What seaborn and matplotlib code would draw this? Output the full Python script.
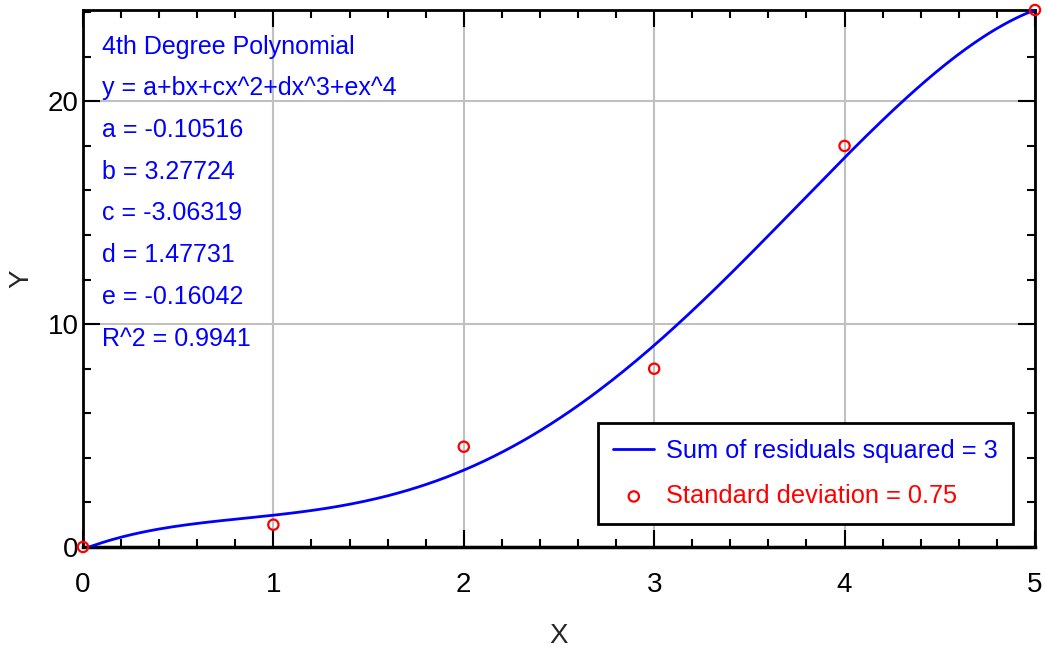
import numpy as np
import matplotlib
matplotlib.use("Agg")
import matplotlib.pyplot as plt
import seaborn as sns
import pandas as pd
from matplotlib.ticker import MultipleLocator

# Data
x_points = [0, 1, 2, 3, 4, 5]
y_points = [0.0, 1.0, 4.5, 8.0, 18.0, 24.1]
coef_names = ["a", "b", "c", "d", "e"]
coef_values = [-0.10516, 3.27724, -3.06319, 1.47731, -0.16042]
r_squared = "0.9941"
sum_resid_sq = "3"
std_dev = "0.75"

sns.set_theme(style="white")
plt.rcParams['font.family'] = ['Liberation Sans', 'DejaVu Sans']

fig = plt.figure(figsize=(10.45, 6.5), dpi=100)
ax = fig.add_axes([0.0794, 0.1585, 0.9110, 0.8261])

xs = np.linspace(0, 5, 300)
ys = sum(c * xs ** i for i, c in enumerate(coef_values))
curve = pd.DataFrame({"x": xs, "y": ys})
pts = pd.DataFrame({"x": x_points, "y": y_points})

sns.lineplot(data=curve, x="x", y="y", ax=ax, color="#0000ff", linewidth=2,
             label=f"Sum of residuals squared = {sum_resid_sq}", zorder=3)
sns.scatterplot(data=pts, x="x", y="y", ax=ax, marker="o", s=55,
                facecolors="none", edgecolor="#ff0000", linewidth=1.6,
                label=f"Standard deviation = {std_dev}", zorder=4, clip_on=False)

ax.set_xlim(0, 5)
ax.set_ylim(0, 24.1)
ax.xaxis.set_major_locator(MultipleLocator(1))
ax.xaxis.set_minor_locator(MultipleLocator(0.2))
ax.yaxis.set_major_locator(MultipleLocator(10))
ax.yaxis.set_minor_locator(MultipleLocator(2))
ax.grid(True, which="major", color="#c0c0c0", linewidth=1.5)
ax.set_axisbelow(True)
ax.tick_params(which="both", direction="in", top=True, right=True, bottom=True, left=True,
               colors="black", labelsize=20, width=1.5)
ax.tick_params(which="major", length=12)
ax.tick_params(which="minor", length=6)
ax.tick_params(axis="x", which="major", pad=18)
ax.tick_params(axis="y", which="major", pad=3)
for s in ax.spines.values():
    s.set_color("black")
    s.set_linewidth(2)
ax.spines["bottom"].set_linewidth(2.5)

ax.set_xlabel("X", fontsize=20, labelpad=18)
ax.set_ylabel("Y", fontsize=20, labelpad=10)

lines = ["4th Degree Polynomial", "y = a+bx+cx^2+dx^3+ex^4"]
lines += [f"{n} = {v}" for n, v in zip(coef_names, coef_values)]
lines += [f"R^2 = {r_squared}"]
for i, t in enumerate(lines):
    ax.text(0.0205, 0.932 - i * 0.0777, t, transform=ax.transAxes, color="#0000ff",
            fontsize=18, va="center", ha="left")

leg = ax.legend(loc="lower right", bbox_to_anchor=(0.977, 0.043), fontsize=18.3,
                frameon=True, fancybox=False, edgecolor="black", framealpha=1,
                handlelength=1.6, borderpad=0.62, labelspacing=0.85, handletextpad=0.45,
                borderaxespad=0)
leg.get_frame().set_linewidth(2)
for txt, col in zip(leg.get_texts(), ["#0000ff", "#ff0000"]):
    txt.set_color(col)

fig.savefig("out.png", dpi=100)
